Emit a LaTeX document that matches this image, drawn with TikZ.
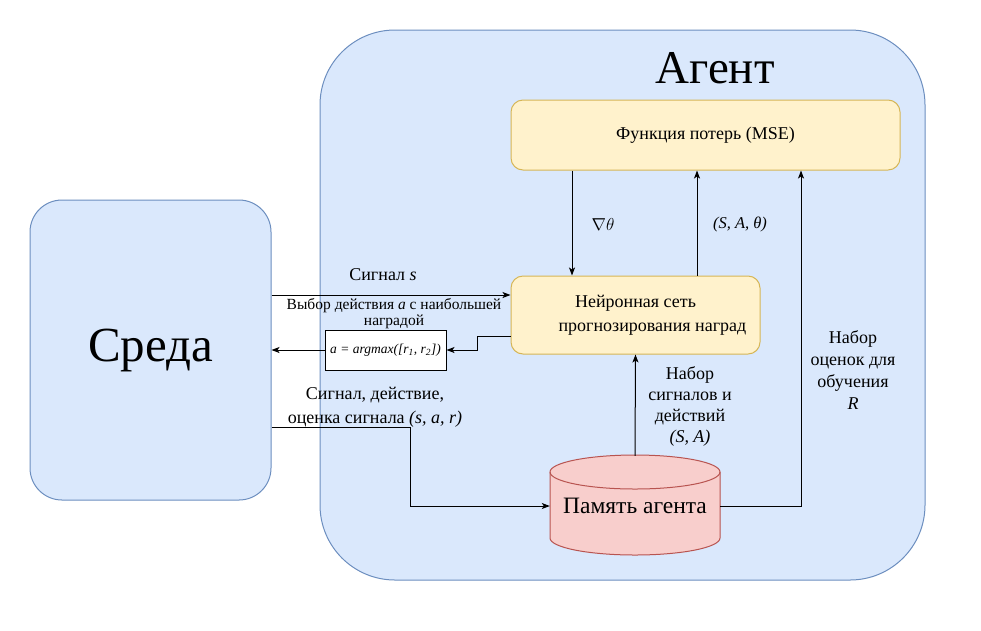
\documentclass[tikz,border=0pt]{standalone}
\usepackage{fontspec}
\setmainfont{Liberation Serif}
\usetikzlibrary{positioning, arrows.meta}

\definecolor{blueFill}{HTML}{DAE8FC}
\definecolor{blueLine}{HTML}{6C8EBF}
\definecolor{yellowFill}{HTML}{FFF2CC}
\definecolor{yellowLine}{HTML}{D6B656}
\definecolor{redFill}{HTML}{F8CECC}
\definecolor{redLine}{HTML}{B85450}

\tikzset{
    arrow/.style={-{Stealth[length=8pt,width=6pt,inset=2pt]}, line width=1pt},
    bluebox/.style={fill=blueFill, draw=blueLine, line width=1pt},
    yellowbox/.style={fill=yellowFill, draw=yellowLine, line width=1pt, rounded corners=12pt},
    lbl/.style={font=\fontsize{18}{22}\selectfont, align=center, inner sep=0pt},
}

\begin{document}
\begin{tikzpicture}[x=1pt, y=-1pt]
        \useasboundingbox (0,0) rectangle (981,630);

        % Draw the agent and environment boxes
        \node[bluebox, rounded corners=75pt, minimum width=605pt, minimum height=550pt] (agent) at (622.5,305) {};
        \node[font=\fontsize{47}{50}\selectfont] (agentname) at (715,68) {Агент};
        \node[bluebox, rounded corners=32pt, minimum width=241pt, minimum height=300pt, font=\fontsize{49}{50}\selectfont] (env) at (150.5,350) {Среда};

        % Draw the loss function and the network
        \node[yellowbox, minimum width=389pt, minimum height=70pt, font=\fontsize{18}{22}\selectfont] (loss) at (705.5,135) {Функция потерь (MSE)};
        \node[yellowbox, minimum width=249pt, minimum height=78pt, align=center, font=\fontsize{18}{24}\selectfont] (nn) at (635.5,315) {Нейронная сеть\\\hspace*{34pt}прогнозирования наград};

        % Draw the argmax box
        \node[fill=white, draw=black, line width=1pt, minimum width=121pt, minimum height=40pt, inner sep=0pt, font=\fontsize{13.5}{15}\selectfont\itshape] (argmax) at (385.5,350) {a = argmax([r\textsubscript{1}, r\textsubscript{2}])};

        % Draw the agent memory (cylinder)
        \filldraw[fill=redFill, draw=redLine, line width=1pt] (550,472) -- (550,538) arc (180:0:85 and 17) -- (720,472) arc (0:-180:85 and 17) -- cycle;
        \draw[redLine, line width=1pt] (550,472) arc (180:0:85 and 17);
        \node[minimum width=170pt, minimum height=100pt, font=\fontsize{23.5}{24}\selectfont] (mem) at (635,506) {Память агента};

        % Draw edges between the environment and the agent
        \draw[arrow] (env.east |- 0,295) -- (nn.west |- 0,295);
        \draw[arrow] (nn.west |- 0,336) -- ++(-33,0) |- (argmax.east);
        \draw[arrow] (argmax.west) -- (env.west -| env.east);
        \draw[arrow] (env.east |- 0,427) -- (410,427) |- (mem.west);

        % Draw edges inside the agent
        \draw[arrow] (mem.north) -- (nn.south);
        \draw[arrow] (mem.east) -| ([xshift=95.5pt]loss.south);
        \draw[arrow] ([xshift=-133.5pt]loss.south) -- ([xshift=-133.5pt]loss.south |- nn.north);
        \draw[arrow] ([xshift=61.5pt]nn.north) -- ([xshift=61.5pt]nn.north |- loss.south);

        % Draw edge labels
        \node[lbl] (lblsignal) at (383,275) {Сигнал \textit{s}};
        \node[lbl, font=\fontsize{15.5}{16}\selectfont] (lblchoice) at (394,314) {Выбор действия \textit{a} с наибольшей\\наградой};
        \node[lbl, font=\fontsize{18}{24}\selectfont] (lblsar) at (375,407) {Сигнал, действие,\\оценка сигнала \textit{(s, a, r)}};
        \node[lbl] (lblgrad) at (603,224) {$\nabla\theta$};
        \node[lbl, font=\fontsize{16.5}{22}\selectfont] (lblsat) at (740,224) {\textit{(S, A, θ)}};
        \node[lbl, font=\fontsize{18}{21}\selectfont] (lblsa) at (690,406.5) {Набор\\сигналов и\\действий\\\textit{(S, A)}};
        \node[lbl] (lblr) at (853,370) {Набор\\оценок для\\обучения\\\textit{R}};
    \end{tikzpicture}
\end{document}
